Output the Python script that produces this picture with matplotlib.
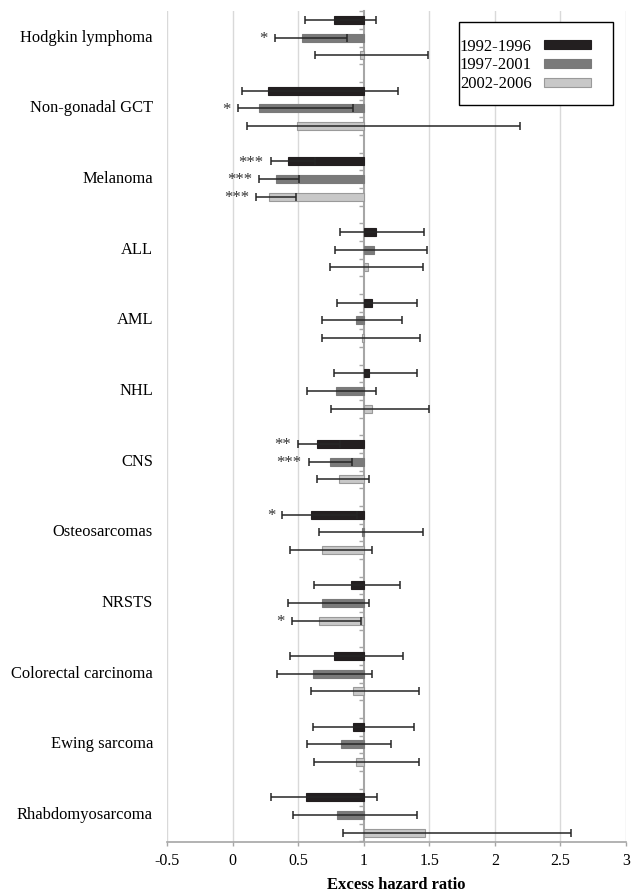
import numpy as np
import matplotlib
matplotlib.use("Agg")
import matplotlib.pyplot as plt
from matplotlib.patches import Patch, Rectangle

plt.rcParams['font.family'] = ['Liberation Serif', 'DejaVu Serif']

# excess hazard ratios (vs reference 1) with 95% CI, three periods per site
sites = ['Hodgkin lymphoma', 'Non-gonadal GCT', 'Melanoma', 'ALL', 'AML', 'NHL',
         'CNS', 'Osteosarcomas', 'NRSTS', 'Colorectal carcinoma', 'Ewing sarcoma',
         'Rhabdomyosarcoma']
periods = ['1992-1996', '1997-2001', '2002-2006']

ehr_1992 = [0.77, 0.27, 0.42, 1.09, 1.06, 1.04, 0.64, 0.60, 0.90, 0.77, 0.92, 0.56]
lo_1992 = [0.55, 0.07, 0.29, 0.82, 0.80, 0.77, 0.50, 0.38, 0.62, 0.44, 0.61, 0.29]
hi_1992 = [1.09, 1.26, 0.63, 1.46, 1.41, 1.41, 0.82, 0.95, 1.28, 1.30, 1.38, 1.10]

ehr_1997 = [0.53, 0.20, 0.33, 1.08, 0.94, 0.79, 0.74, 0.99, 0.68, 0.61, 0.83, 0.80]
lo_1997 = [0.32, 0.04, 0.20, 0.78, 0.68, 0.57, 0.58, 0.66, 0.42, 0.34, 0.57, 0.46]
hi_1997 = [0.87, 0.92, 0.51, 1.48, 1.29, 1.09, 0.91, 1.45, 1.04, 1.06, 1.21, 1.41]

ehr_2002 = [0.97, 0.49, 0.28, 1.03, 0.99, 1.06, 0.81, 0.68, 0.66, 0.92, 0.94, 1.47]
lo_2002 = [0.63, 0.11, 0.18, 0.74, 0.68, 0.75, 0.64, 0.44, 0.45, 0.60, 0.62, 0.84]
hi_2002 = [1.49, 2.19, 0.48, 1.45, 1.43, 1.50, 1.04, 1.06, 0.98, 1.42, 1.42, 2.58]

# significance marks: (site index, period index, label)
stars = [(0, 1, '*'), (1, 1, '*'), (2, 0, '***'), (2, 1, '***'), (2, 2, '***'),
         (6, 0, '**'), (6, 1, '***'), (7, 0, '*'), (8, 2, '*')]

colors = ['#231f20', '#7a7a7a', '#c8c8c8']
edges = ['#231f20', '#7a7a7a', '#9a9a9a']

fig = plt.figure(figsize=(6.38, 8.96), dpi=100)
ax = fig.add_axes([167 / 638, 1 - 841.5 / 896, 459 / 638, 830.3 / 896])

series = [(ehr_1992, lo_1992, hi_1992),
          (ehr_1997, lo_1997, hi_1997),
          (ehr_2002, lo_2002, hi_2002)]
n = len(sites)
for j, (v, lo, hi) in enumerate(series):
    v = np.array(v)
    y = np.arange(n) * 4 + j
    ax.barh(y, v - 1, left=1, height=0.45, color=colors[j], edgecolor=edges[j],
            linewidth=0.8, zorder=3)
    ax.errorbar(v, y, xerr=[v - np.array(lo), np.array(hi) - v], fmt='none',
                ecolor='#262626', elinewidth=1.1, capsize=3, capthick=1.1, zorder=4)

lows = [lo_1992, lo_1997, lo_2002]
for i, j, s in stars:
    ax.annotate(s, (lows[j][i], i * 4 + j), xytext=(-5, -1), textcoords='offset points',
                ha='right', va='center', fontsize=12, color='#333333')

# category names at the middle bar of each group
for i, name in enumerate(sites):
    ax.annotate(name, (0, i * 4 + 1), xycoords=('axes fraction', 'data'),
                xytext=(-14, 0), textcoords='offset pixels',
                ha='right', va='center', fontsize=11.9)

ax.set_xlim(-0.5, 3)
ax.set_ylim(46.5, -0.5)
ax.set_xticks(np.arange(-0.5, 3.01, 0.5))
ax.set_xticklabels(['-0.5', '0', '0.5', '1', '1.5', '2', '2.5', '3'])
for xv in np.arange(-0.5, 3.01, 0.5):
    if xv != 1:
        ax.axvline(xv, color='#d9d9d9', lw=1, zorder=0)

# y axis sits on the reference line at 1
ax.spines['left'].set_position(('data', 1))
ax.spines['left'].set_color('#a6a6a6')
ax.spines['left'].set_linewidth(1.5)
ax.spines['left'].set_zorder(2)
ax.spines['bottom'].set_color('#a6a6a6')
ax.spines['bottom'].set_linewidth(1.2)
ax.spines['top'].set_visible(False)
ax.spines['right'].set_visible(False)
ax.set_yticks(np.arange(-0.5, 46.6, 1))
ax.set_yticklabels([])
ax.tick_params(axis='y', direction='out', length=3.5, color='#a6a6a6', width=1)
ax.tick_params(axis='x', direction='out', length=3, color='#a6a6a6', width=1,
               labelsize=11.5, pad=5)

ax.set_xlabel('Excess hazard ratio', fontsize=12, fontweight='bold', labelpad=6)

# legend: labels left, swatches right, inside a plain box
ax.add_patch(Rectangle((0.636, 0.887), 0.336, 0.100, transform=ax.transAxes,
                       facecolor='white', edgecolor='black', lw=1, zorder=5))
handles = [Patch(facecolor=c, edgecolor=e, lw=0.8) for c, e in zip(colors, edges)]
leg = ax.legend(handles, periods, loc='upper left', bbox_to_anchor=(0.638, 0.967),
                frameon=False, markerfirst=False, fontsize=12, borderpad=0,
                borderaxespad=0, handlelength=2.8, handleheight=0.45,
                handletextpad=0.75, labelspacing=0.17)
leg.set_zorder(6)

fig.savefig('out.png', dpi=100)
